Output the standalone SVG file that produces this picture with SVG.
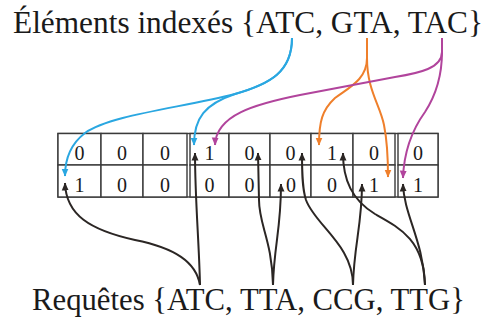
<svg xmlns="http://www.w3.org/2000/svg" width="487" height="320" viewBox="0 0 487 320">
<defs>
<style>
.lbl{font-family:"Liberation Serif","Times New Roman",serif;font-size:31px;fill:#1a1a1a}
.cell{fill:#fff;stroke:#3a3a3a;stroke-width:1.4}
.frame{fill:none;stroke:#3a3a3a;stroke-width:1.4}
.dig{font-family:"Liberation Serif","Times New Roman",serif;font-size:20px;fill:#1a1a1a;text-anchor:middle}
.c{fill:none;stroke-width:2;stroke-linecap:butt}
.blue{stroke:#2aa7e1}
.orange{stroke:#ef7f2b}
.purple{stroke:#b1449c}
.black{stroke:#2b2624}
</style>
<marker id="ab" viewBox="0 0 8 8" refX="7.5" refY="4" markerWidth="8" markerHeight="8" markerUnits="userSpaceOnUse" orient="auto"><path d="M0,0.5 L8,4 L0,7.5 z" fill="#2aa7e1"/></marker>
<marker id="ao" viewBox="0 0 8 8" refX="7.5" refY="4" markerWidth="8" markerHeight="8" markerUnits="userSpaceOnUse" orient="auto"><path d="M0,0.5 L8,4 L0,7.5 z" fill="#ef7f2b"/></marker>
<marker id="ap" viewBox="0 0 8 8" refX="7.5" refY="4" markerWidth="8" markerHeight="8" markerUnits="userSpaceOnUse" orient="auto"><path d="M0,0.5 L8,4 L0,7.5 z" fill="#b1449c"/></marker>
<marker id="ak" viewBox="0 0 8 8" refX="7.5" refY="4" markerWidth="8" markerHeight="8" markerUnits="userSpaceOnUse" orient="auto"><path d="M0,0.5 L8,4 L0,7.5 z" fill="#2b2624"/></marker>
</defs>
<rect width="487" height="320" fill="#fff"/>

<g id="title"><text class="lbl" x="13" y="33" textLength="470" lengthAdjust="spacingAndGlyphs">Éléments indexés {ATC, GTA, TAC}</text></g>
<g id="queries"><text class="lbl" x="32" y="310" textLength="433" lengthAdjust="spacingAndGlyphs">Requêtes {ATC, TTA, CCG, TTG}</text></g>

<g id="table">
<rect class="frame" x="58" y="133.5" width="380" height="63.5"/>
<g id="r1c1"><rect class="cell" x="58" y="133.5" width="43" height="31.5"/><text class="dig" x="79.5" y="160">0</text></g>
<g id="r1c2"><rect class="cell" x="101" y="133.5" width="42" height="31.5"/><text class="dig" x="122" y="160">0</text></g>
<g id="r1c3"><rect class="cell" x="143" y="133.5" width="44" height="31.5"/><text class="dig" x="165" y="160">0</text></g>
<g id="r1c4"><rect class="cell" x="190" y="133.5" width="39" height="31.5"/><text class="dig" x="209.5" y="160">1</text></g>
<g id="r1c5"><rect class="cell" x="229" y="133.5" width="41" height="31.5"/><text class="dig" x="249.5" y="160">0</text></g>
<g id="r1c6"><rect class="cell" x="270" y="133.5" width="41" height="31.5"/><text class="dig" x="290.5" y="160">0</text></g>
<g id="r1c7"><rect class="cell" x="311" y="133.5" width="42" height="31.5"/><text class="dig" x="332" y="160">1</text></g>
<g id="r1c8"><rect class="cell" x="353" y="133.5" width="42" height="31.5"/><text class="dig" x="374" y="160">0</text></g>
<g id="r1c9"><rect class="cell" x="398" y="133.5" width="40" height="31.5"/><text class="dig" x="418" y="160">0</text></g>
<g id="r2c1"><rect class="cell" x="58" y="165" width="43" height="32"/><text class="dig" x="79.5" y="192">1</text></g>
<g id="r2c2"><rect class="cell" x="101" y="165" width="42" height="32"/><text class="dig" x="122" y="192">0</text></g>
<g id="r2c3"><rect class="cell" x="143" y="165" width="44" height="32"/><text class="dig" x="165" y="192">0</text></g>
<g id="r2c4"><rect class="cell" x="190" y="165" width="39" height="32"/><text class="dig" x="209.5" y="192">0</text></g>
<g id="r2c5"><rect class="cell" x="229" y="165" width="41" height="32"/><text class="dig" x="249.5" y="192">0</text></g>
<g id="r2c6"><rect class="cell" x="270" y="165" width="41" height="32"/><text class="dig" x="291" y="192">0</text></g>
<g id="r2c7"><rect class="cell" x="311" y="165" width="42" height="32"/><text class="dig" x="332" y="192">0</text></g>
<g id="r2c8"><rect class="cell" x="353" y="165" width="42" height="32"/><text class="dig" x="374" y="192">1</text></g>
<g id="r2c9"><rect class="cell" x="398" y="165" width="40" height="32"/><text class="dig" x="418" y="192">1</text></g>
</g>

<g id="connectors">
<path class="c blue" marker-end="url(#ab)" d="M292,38 C292,72 270,84 235,94 C180,108 110,115 85,133 C72,143 65,158 65,176"/>
<path class="c blue" marker-end="url(#ab)" d="M292,38 C292,72 270,84 235,94 C205,104 194,118 194,145"/>
<path class="c orange" marker-end="url(#ao)" d="M367,38 L367,58 C367,80 348,88 335,98 C322,110 319,122 319,145"/>
<path class="c orange" marker-end="url(#ao)" d="M367,38 L367,58 C367,90 380,105 384,125 C387,140 388,158 388,177"/>
<path class="c purple" marker-end="url(#ap)" d="M442,38 L442,52 C442,68 420,73 395,77 L300,95 C255,104 216,115 215,145"/>
<path class="c purple" marker-end="url(#ap)" d="M442,38 L442,52 C442,75 436,95 425,112 C412,130 404,150 403,178"/>
<path class="c black" marker-end="url(#ak)" d="M200,285 C199,240 195,200 195,153"/>
<path class="c black" marker-end="url(#ak)" d="M200,285 C196,262 175,248 135,240 C90,230 66,215 65,183"/>
<path class="c black" marker-end="url(#ak)" d="M273,285 C272,240 259,225 259,200 L258,153"/>
<path class="c black" marker-end="url(#ak)" d="M273,285 C274,245 281,230 281,184"/>
<path class="c black" marker-end="url(#ak)" d="M353,285 C353,245 315,225 306,200 C302,188 302,170 302,153"/>
<path class="c black" marker-end="url(#ak)" d="M353,285 C354,245 362,225 362,184"/>
<path class="c black" marker-end="url(#ak)" d="M425,285 C424,240 400,228 375,214 C352,200 343,180 343,153"/>
<path class="c black" marker-end="url(#ak)" d="M425,285 C423,240 404,215 403,184"/>
</g>
</svg>
